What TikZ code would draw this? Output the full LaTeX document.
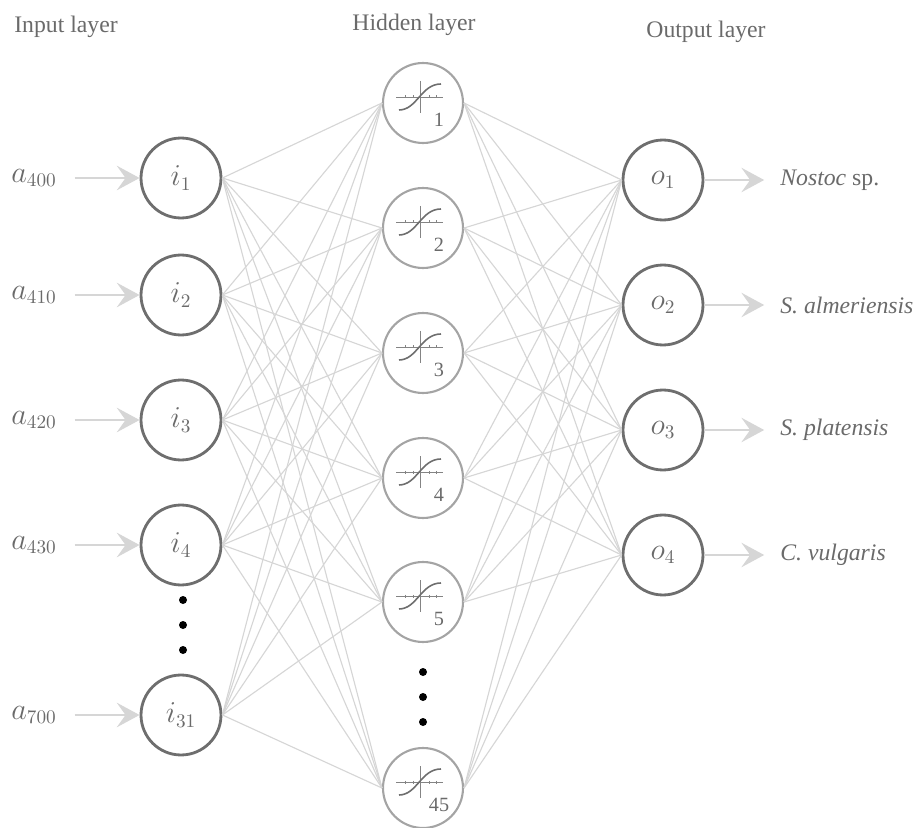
\documentclass[tikz,border=0pt]{standalone}
\usepackage{fontspec}
\setmainfont{Liberation Serif}
\usetikzlibrary{arrows.meta,calc,positioning}
\definecolor{ringdark}{HTML}{6E6E6E}
\definecolor{ringlight}{HTML}{A4A4A4}
\definecolor{wire}{HTML}{D6D6D6}
\definecolor{txt}{HTML}{6A6A6A}
\tikzset{
  neuron/.style  = {circle, draw=ringdark, line width=1.6pt, minimum size=1.6cm,
                    inner sep=0pt, text=txt, font=\fontsize{16}{18}\selectfont},
  hidden/.style  = {neuron, draw=ringlight, line width=1.2pt},
  title/.style   = {text=txt, font=\fontsize{13.5}{16}\selectfont},
  feature/.style = {text=txt, font=\fontsize{16}{18}\selectfont, inner sep=3pt},
  species/.style = {text=txt, font=\fontsize{13.5}{16}\selectfont, inner sep=0pt,
                    anchor=west},
  link/.style    = {draw=wire, line width=0.65pt},
  feed/.style    = {draw=wire, line width=0.9pt,
                    -{Stealth[length=13pt,width=14pt,inset=5pt]}},
  axis/.style    = {draw=ringdark!85, line width=0.55pt},
  sigcurve/.style= {draw=ringdark, line width=0.9pt}
}

\begin{document}
\begin{tikzpicture}[x=0.02cm, y=-0.02cm]
\useasboundingbox (0,0) rectangle (921,828);

% layer titles
\node[title] (tin)  at (66,27)  {Input layer};
\node[title] (thid) at (414,25) {Hidden layer};
\node[title] (tout) at (706,32) {Output layer};

% input layer
\foreach \n/\y/\w in {1/178/400, 2/295/410, 3/420/420, 4/545/430, 31/715/700} {
  \node[neuron] (i\n) at (181,\y) {$i_{\n}$};
  \node[feature] (a\w) at (34,\y) {$a_{\w}$};
  \draw[feed, shorten <=7pt] (a\w.east |- i\n) -- (i\n);
}

% hidden layer, each with a small sigmoid sketch
\foreach \n/\y in {1/103, 2/228, 3/353, 4/478, 5/602, 45/788} {
  \node[hidden] (h\n) at (423,\y) {};
  \begin{scope}[shift={(h\n.center)}]
    \draw[axis] (-27,-6) -- (20,-6);
    \draw[axis] (-3,-22) -- (-3,10);
    \foreach \t in {-18,-10,6,13}
      \draw[axis] (\t,-7.5) -- (\t,-4.5);
    \draw[sigcurve] (-24,7) .. controls (-6,7) and (-2,-19) .. (18,-19);
    \node[text=txt, font=\fontsize{11.5}{13}\selectfont, inner sep=0pt]
      (h\n num) at (16,17) {\n};
  \end{scope}
}

% output layer
\foreach \n/\y/\s in {1/180/{\textit{Nostoc} sp.}, 2/305/{\textit{S. almeriensis}},
                      3/430/{\textit{S. platensis}}, 4/555/{\textit{C. vulgaris}}} {
  \node[neuron] (o\n) at (663,\y) {$o_{\n}$};
  \node[species] (sp\n) at (780,\y) {\s};
  \draw[feed, shorten >=9pt] (o\n) -- (o\n -| sp\n.west);
}

% full connections between the layers
\foreach \a in {1,2,3,4,31}
  \foreach \b in {1,2,3,4,5,45}
    \draw[link] (i\a.east) -- (h\b.west);
\foreach \b in {1,2,3,4,5,45}
  \foreach \c in {1,2,3,4}
    \draw[link] (h\b.east) -- (o\c.west);

% omitted units
\foreach \y in {600,625,650}
  \fill (183,\y) circle (4);
\foreach \y in {672,697,722}
  \fill (423,\y) circle (4);
\end{tikzpicture}
\end{document}
